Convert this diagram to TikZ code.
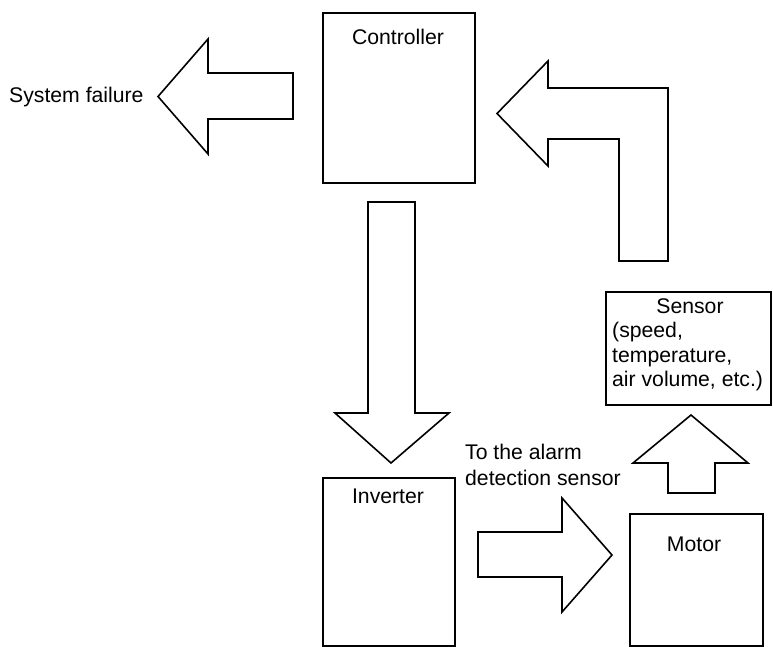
\documentclass[tikz,border=0pt]{standalone}
\usepackage{fontspec}
\setmainfont{Liberation Sans}
\begin{document}
\begin{tikzpicture}[x=1pt,y=-1pt,
  box/.style={draw, line width=1.6pt, rectangle, inner sep=0pt, anchor=north west},
  blockarrow/.style={draw, line width=1.6pt, line join=miter, fill=white},
  lbl/.style={inner sep=0pt, font=\fontsize{21.2}{25}\selectfont},
]
\useasboundingbox (0,0) rectangle (773,646);

% boxes
\node[box, minimum width=152pt, minimum height=170pt] (ctrl) at (322,12) {};
\node[box, minimum width=165pt, minimum height=113pt] (sens) at (605,291) {};
\node[box, minimum width=132pt, minimum height=168pt] (inv) at (322,477) {};
\node[box, minimum width=133pt, minimum height=132pt] (mot) at (629,513) {};

% texts
\node[lbl, anchor=base] (tctrl) at (398,44.5) {Controller};
\node[lbl, anchor=base] (tinv) at (388,503.5) {Inverter};
\node[lbl, anchor=base] (tmot) at (694,551.5) {Motor};
\node[lbl, anchor=base] (ts1) at (690,313) {Sensor};
\node[lbl, anchor=base west] (ts2) at (612,337.5) {(speed,};
\node[lbl, anchor=base west] (ts3) at (612,362) {temperature,};
\node[lbl, anchor=base west] (ts4) at (612,386.5) {air volume, etc.)};
\node[lbl, anchor=base west] (tfail) at (9,102) {System failure};
\node[lbl, anchor=base west] (talarm1) at (465,459) {To the alarm};
\node[lbl, anchor=base west] (talarm2) at (465,485) {detection sensor};

% block arrows
% controller -> system failure
\draw[blockarrow] (293,73) -- (208,73) -- (208,39) -- (158,96.5) -- (208,154)
  -- (208,119) -- (293,119) -- cycle;
% controller -> inverter
\draw[blockarrow] (368,202) -- (415,202) -- (415,413) -- (449,413) -- (391,463)
  -- (335,413) -- (368,413) -- cycle;
% inverter -> motor
\draw[blockarrow] (478,532) -- (562,532) -- (562,498) -- (612,555) -- (562,612)
  -- (562,577) -- (478,577) -- cycle;
% motor -> sensor
\draw[blockarrow] (668,493) -- (668,463) -- (633,463) -- (691,415) -- (748,463)
  -- (715,463) -- (715,493) -- cycle;
% sensor -> controller (bent)
\draw[blockarrow] (668,261) -- (668,88) -- (548,88) -- (548,61) -- (497,113.5)
  -- (548,166) -- (548,139) -- (619,139) -- (619,261) -- cycle;
\end{tikzpicture}
\end{document}
